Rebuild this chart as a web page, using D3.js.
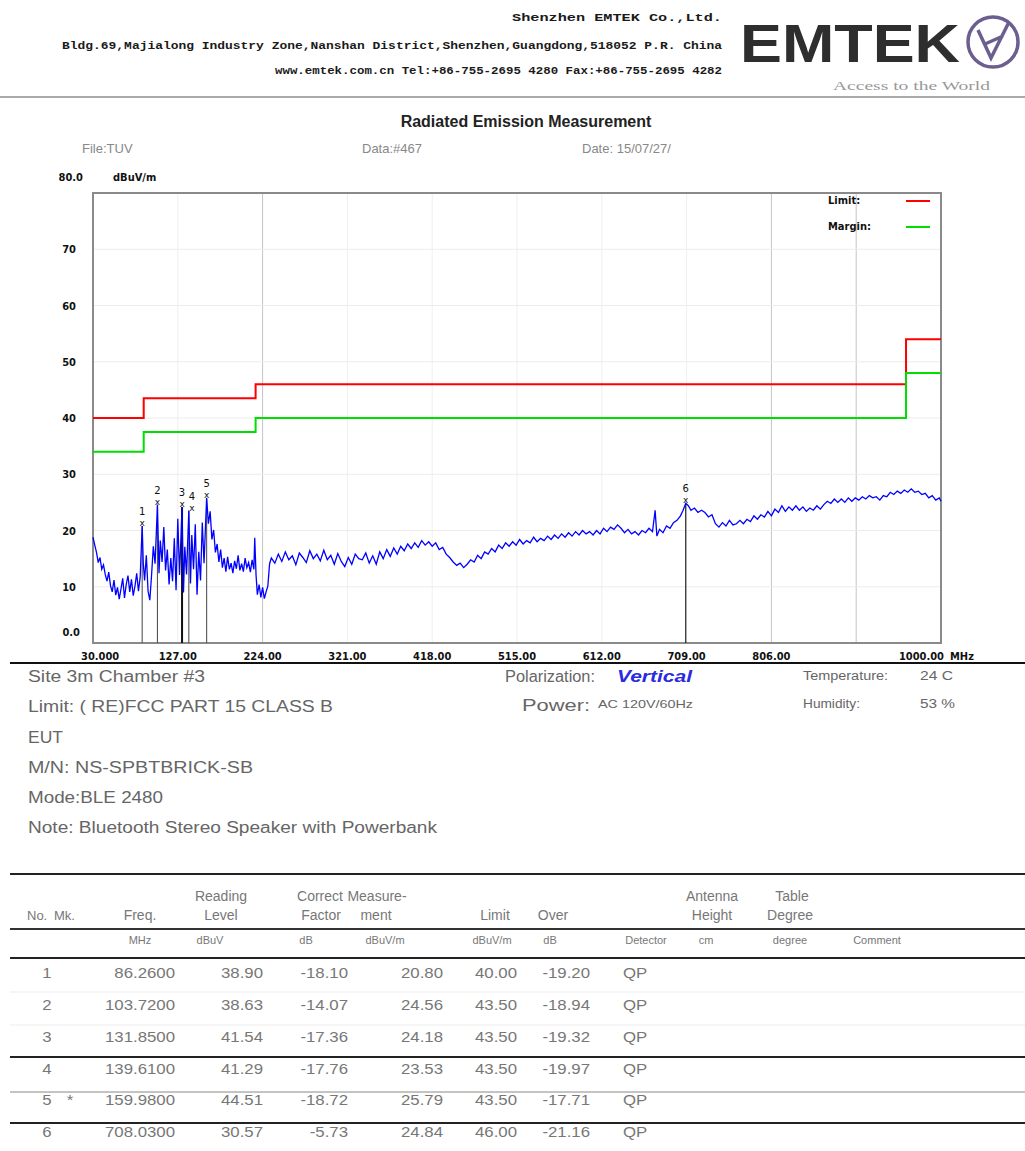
<!DOCTYPE html>
<html>
<head>
<meta charset="utf-8">
<script src="https://cdn.jsdelivr.net/npm/d3@7"></script>
<style>
  body { margin: 0; background: #fff; }
  svg { display: block; }
  .hdr { font-family: 'Liberation Mono', 'DejaVu Sans Mono', monospace; font-weight: bold; font-size: 11px; fill: #1a1a1a; }
  .ax { font-family: 'Liberation Sans Narrow', 'DejaVu Sans Condensed', sans-serif; font-weight: bold; font-size: 11px; fill: #111; }
  .info { font-family: 'Liberation Sans', Arial, sans-serif; fill: #666; }
  .tbl { font-family: 'Liberation Sans', Arial, sans-serif; fill: #777; }
</style>
</head>
<body>
<div id="chart"></div>
<script>
const width = 1025;
const height = 1151;

// plot box
const plotLeft = 93;
const plotRight = 941;
const plotTop = 193;
const plotBottom = 643;

// x ticks (MHz) and their labels
const xTicks = [30, 127, 224, 321, 418, 515, 612, 709, 806, 903, 1000];
const xTickLabels = ['30.000', '127.00', '224.00', '321.00', '418.00', '515.00', '612.00', '709.00', '806.00', '', '1000.00'];
const yTicks = [0, 10, 20, 30, 40, 50, 60, 70, 80];
const yTickLabels = ['0.0', '10', '20', '30', '40', '50', '60', '70', '80.0'];
// grid lines that show up darker in the print
const strongGrid = [224, 806, 903];

// limit lines (step after each break)
const limitFreq = [30, 88, 216, 960, 1000];
const limitLevel = [40, 43.5, 46, 54, 54];
const marginLevel = [34, 37.5, 40, 48, 48];

// measured trace [MHz, dBuV/m]
const trace = [
  [30,18.8],[32,17.4],[34,16.1],[36,14.3],[38,15.2],[40,13.1],[42,13.9],[44,12.2],[46,11.0],[48,12.6],
  [50,10.2],[52,9.1],[54,11.2],[56,8.5],[58,9.9],[60,7.8],[62,9.6],[64,11.5],[66,8.0],[68,10.4],
  [70,12.0],[72,9.1],[74,11.3],[76,8.4],[78,10.1],[80,12.4],[82,9.2],[84,11.8],[86.26,20.8],[87.5,14.2],
  [89,11.1],[91,15.6],[93,9.2],[95,7.6],[97,12.1],[99,17.2],[101,14.1],[103.72,24.56],[105.5,12.4],[107,18.2],
  [109,14.4],[111,20.6],[113,12.9],[115,16.6],[117,10.4],[119,15.1],[121,11.0],[123,18.6],[125,9.4],[127,22.1],
  [129,12.1],[131.85,24.18],[133.5,9.0],[135,17.1],[137,12.2],[139.61,23.53],[141.5,10.6],[143,19.2],[145,13.1],[147,21.1],
  [149,8.6],[151,16.2],[153,11.1],[155,21.4],[157,14.2],[159.98,25.79],[162,21.2],[164,23.4],[166,18.4],[168,20.1],
  [170,16.1],[172,17.6],[174,14.4],[176,16.6],[178,13.4],[180,15.1],[182,12.7],[184,15.3],[186,13.1],[188,14.2],
  [190,12.4],[192,14.6],[194,13.2],[196,15.6],[198,12.9],[200,14.1],[202,12.7],[204,15.1],[206,13.4],[208,14.3],
  [210,12.6],[212,14.8],[214,13.1],[215,18.7],[216.5,12.1],[218,8.6],[220,10.4],[222,8.1],[224,9.9],[226,7.9],
  [228,9.1],[230,10.1],[232,14.1],[234,15.1],[238,14.2],[242,15.8],[246,14.5],[250,16.2],[254,14.8],[258,15.5],
  [262,13.9],[266,16.0],[270,15.2],[274,14.3],[278,16.4],[282,15.0],[286,15.8],[290,14.6],[294,16.5],[298,14.8],
  [302,15.6],[306,14.0],[310,15.9],[314,14.5],[318,13.6],[322,15.2],[326,14.0],[330,15.8],[334,15.0],[338,14.8],
  [342,16.0],[346,14.2],[350,15.5],[354,14.0],[358,16.2],[362,15.0],[366,16.6],[370,15.4],[374,16.9],[378,15.8],
  [382,17.2],[386,16.4],[390,17.6],[394,16.8],[398,17.8],[402,17.0],[406,18.2],[410,17.4],[414,18.0],[418,17.2],
  [422,17.8],[426,16.6],[430,17.0],[434,15.8],[438,15.2],[442,14.4],[446,13.8],[450,14.2],[454,13.4],[458,14.0],
  [462,14.8],[466,14.4],[470,15.6],[474,15.0],[478,16.2],[482,15.8],[486,16.8],[490,16.2],[494,17.4],[498,16.8],
  [502,17.8],[506,17.2],[510,18.0],[514,17.4],[518,18.4],[522,17.6],[526,18.2],[530,17.8],[534,18.8],[538,18.0],
  [542,18.6],[546,18.2],[550,19.0],[554,18.4],[558,19.2],[562,18.6],[566,19.4],[570,18.8],[574,19.6],[578,19.0],
  [582,19.8],[586,19.2],[590,20.0],[594,19.4],[598,19.8],[602,19.2],[606,20.0],[610,19.4],[614,20.4],[618,19.8],
  [622,20.6],[626,20.2],[630,21.0],[634,20.4],[638,19.6],[642,20.2],[646,19.4],[650,19.8],[654,19.2],[658,20.0],
  [662,19.6],[666,20.4],[670,19.8],[673,23.6],[675,19.0],[678,20.2],[682,19.6],[686,20.8],[690,20.4],[694,21.4],
  [698,21.8],[702,22.6],[705,23.6],[708.03,24.84],[711,24.4],[714,23.6],[718,24.0],[722,23.2],[726,23.6],[730,23.2],
  [734,22.4],[738,22.8],[742,21.2],[746,20.6],[750,21.4],[754,20.8],[758,21.8],[762,21.0],[766,21.2],[770,21.8],
  [774,21.2],[778,22.0],[782,21.6],[786,22.6],[790,22.0],[794,22.8],[798,22.4],[802,23.4],[806,22.6],[810,23.8],
  [814,23.2],[818,24.4],[822,23.4],[826,24.2],[830,23.6],[834,24.4],[838,23.6],[842,24.2],[846,23.4],[850,24.0],
  [854,23.6],[858,24.4],[862,23.8],[866,24.6],[870,25.2],[874,24.8],[878,25.6],[882,25.0],[886,25.6],[890,25.0],
  [894,25.8],[898,25.2],[902,25.8],[906,25.4],[910,26.0],[914,25.6],[918,26.2],[922,25.8],[926,26.0],[930,25.4],
  [934,26.2],[938,26.0],[942,26.8],[946,26.4],[950,27.0],[954,26.6],[958,27.2],[962,26.8],[966,27.4],[970,26.8],
  [974,27.0],[978,26.4],[982,26.6],[986,25.8],[990,26.2],[994,25.4],[998,25.8],[1000,25.2]
];

// marker / table data
const mkNo = ['1', '2', '3', '4', '5', '6'];
const mkStar = ['', '', '', '', '*', ''];
const mkFreq = [86.26, 103.72, 131.85, 139.61, 159.98, 708.03];
const mkFreqText = ['86.2600', '103.7200', '131.8500', '139.6100', '159.9800', '708.0300'];
const mkReading = ['38.90', '38.63', '41.54', '41.29', '44.51', '30.57'];
const mkCorrect = ['-18.10', '-14.07', '-17.36', '-17.76', '-18.72', '-5.73'];
const mkLevel = [20.80, 24.56, 24.18, 23.53, 25.79, 24.84];
const mkLimit = ['40.00', '43.50', '43.50', '43.50', '43.50', '46.00'];
const mkOver = ['-19.20', '-18.94', '-19.32', '-19.97', '-17.71', '-21.16'];
const mkDetector = ['QP', 'QP', 'QP', 'QP', 'QP', 'QP'];

const svg = d3.select('#chart').append('svg')
  .attr('width', width)
  .attr('height', height);

svg.append('rect').attr('width', width).attr('height', height).attr('fill', '#fff');

// ---- header ----
const hdr = svg.append('g');
hdr.append('text').attr('class', 'hdr').attr('x', 722).attr('y', 21)
  .attr('text-anchor', 'end').attr('textLength', 210).attr('lengthAdjust', 'spacingAndGlyphs')
  .text('Shenzhen EMTEK Co.,Ltd.');
hdr.append('text').attr('class', 'hdr').attr('x', 722).attr('y', 49)
  .attr('text-anchor', 'end').attr('textLength', 660).attr('lengthAdjust', 'spacingAndGlyphs')
  .text('Bldg.69,Majialong Industry Zone,Nanshan District,Shenzhen,Guangdong,518052 P.R. China');
hdr.append('text').attr('class', 'hdr').attr('x', 722).attr('y', 74)
  .attr('text-anchor', 'end').attr('textLength', 447).attr('lengthAdjust', 'spacingAndGlyphs')
  .text('www.emtek.com.cn Tel:+86-755-2695 4280 Fax:+86-755-2695 4282');

// logo
hdr.append('text').attr('x', 740).attr('y', 62)
  .attr('textLength', 220).attr('lengthAdjust', 'spacingAndGlyphs')
  .style('font-family', "'Liberation Sans', Arial, sans-serif").style('font-weight', 'bold')
  .style('font-size', '54px').style('fill', '#2e2e2e')
  .text('EMTEK');
hdr.append('circle').attr('cx', 993).attr('cy', 42).attr('r', 25)
  .attr('fill', 'none').attr('stroke', '#6c5f8f').attr('stroke-width', 3.5);
hdr.append('path').attr('d', 'M978,30 L991,58 L1009,22 M985,44 L1003,36')
  .attr('fill', 'none').attr('stroke', '#6c5f8f').attr('stroke-width', 3.5);
hdr.append('text').attr('x', 833).attr('y', 90)
  .attr('textLength', 157).attr('lengthAdjust', 'spacingAndGlyphs')
  .style('font-family', "'Liberation Serif', serif").style('font-size', '12px').style('fill', '#999')
  .text('Access to the World');

svg.append('line').attr('x1', 0).attr('x2', width).attr('y1', 97).attr('y2', 97)
  .attr('stroke', '#aaa').attr('stroke-width', 2);

// title block
svg.append('text').attr('x', 526).attr('y', 127).attr('text-anchor', 'middle')
  .style('font-family', "'Liberation Sans', Arial, sans-serif").style('font-weight', 'bold')
  .style('font-size', '16px').style('fill', '#222')
  .text('Radiated Emission Measurement');
[['File:TUV', 82], ['Data:#467', 362], ['Date: 15/07/27/', 582]].forEach(([t, x]) => {
  svg.append('text').attr('class', 'info').attr('x', x).attr('y', 153)
    .style('font-size', '13px').style('fill', '#888').text(t);
});

// ---- chart ----
const x = d3.scaleLinear().domain([30, 1000]).range([plotLeft, plotRight]);
const y = d3.scaleLinear().domain([0, 80]).range([plotBottom, plotTop]);

const chart = svg.append('g');

// grid
chart.selectAll('.vgrid').data(xTicks.slice(1, -1)).enter().append('line')
  .attr('x1', d => x(d)).attr('x2', d => x(d))
  .attr('y1', plotTop).attr('y2', plotBottom)
  .attr('stroke', d => strongGrid.includes(d) ? '#c4c4c4' : '#efefef').attr('stroke-width', 1);
chart.selectAll('.hgrid').data(yTicks.slice(1, -1)).enter().append('line')
  .attr('x1', plotLeft).attr('x2', plotRight)
  .attr('y1', d => y(d)).attr('y2', d => y(d))
  .attr('stroke', '#ececec').attr('stroke-width', 1);

// frame
chart.append('rect').attr('x', plotLeft).attr('y', plotTop)
  .attr('width', plotRight - plotLeft).attr('height', plotBottom - plotTop)
  .attr('fill', 'none').attr('stroke', '#8a8a8a').attr('stroke-width', 2);

// x labels
chart.selectAll('.xlab').data(xTicks).enter().append('text')
  .attr('class', 'ax')
  .attr('x', (d, i) => i === 0 ? x(d) - 12 : i === xTicks.length - 1 ? x(d) + 3 : x(d))
  .attr('y', 660)
  .attr('text-anchor', (d, i) => i === 0 ? 'start' : i === xTicks.length - 1 ? 'end' : 'middle')
  .text((d, i) => xTickLabels[i]);
chart.append('text').attr('class', 'ax').attr('x', 950).attr('y', 660).text('MHz');

// y labels
chart.selectAll('.ylab').data(yTicks).enter().append('text')
  .attr('class', 'ax')
  .attr('x', d => d === 80 ? 83 : d === 0 ? 80 : 76)
  .attr('text-anchor', 'end')
  .attr('y', d => d === 80 ? y(d) - 12 : d === 0 ? y(d) - 7 : y(d) + 4)
  .text((d, i) => yTickLabels[i]);
chart.append('text').attr('class', 'ax').attr('x', 113).attr('y', y(80) - 12).text('dBuV/m');

// limit and margin lines
const stepLine = d3.line().x(d => x(d[0])).y(d => y(d[1])).curve(d3.curveStepAfter);
chart.append('path').datum(limitFreq.map((f, i) => [f, limitLevel[i]]))
  .attr('d', stepLine).attr('fill', 'none').attr('stroke', '#ff0000').attr('stroke-width', 2);
chart.append('path').datum(limitFreq.map((f, i) => [f, marginLevel[i]]))
  .attr('d', stepLine).attr('fill', 'none').attr('stroke', '#00dd00').attr('stroke-width', 2);

// legend
const legend = chart.append('g');
[['Limit:', '#ff0000', 201], ['Margin:', '#00dd00', 227]].forEach(([t, c, yy]) => {
  legend.append('text').attr('class', 'ax').attr('x', 828).attr('y', yy + 3).text(t);
  legend.append('line').attr('x1', 906).attr('x2', 930).attr('y1', yy).attr('y2', yy)
    .attr('stroke', c).attr('stroke-width', 2);
});

// marker lines
chart.selectAll('.mkline').data(mkFreq).enter().append('line')
  .attr('x1', d => x(d)).attr('x2', d => x(d))
  .attr('y1', (d, i) => y(mkLevel[i])).attr('y2', plotBottom)
  .attr('stroke', (d, i) => i === 2 || i === 5 ? '#111' : '#555')
  .attr('stroke-width', (d, i) => i === 2 ? 2 : 1.1);

// trace
const traceLine = d3.line().x(d => x(d[0])).y(d => y(d[1]));
chart.append('path').datum(trace)
  .attr('d', traceLine).attr('fill', 'none')
  .attr('stroke', '#0000ff').attr('stroke-width', 1.3);

// marker symbols
const mk = chart.selectAll('.mk').data(mkFreq).enter().append('g')
  .attr('transform', (d, i) => `translate(${x(d) + (i === 3 ? 3 : 0)},${y(mkLevel[i])})`);
mk.append('text').attr('text-anchor', 'middle').attr('y', 0)
  .style('font-family', "'DejaVu Sans', sans-serif").style('font-size', '9px').style('fill', '#111')
  .text('x');
mk.append('text').attr('text-anchor', 'middle').attr('y', -11)
  .style('font-family', "'DejaVu Sans', sans-serif").style('font-size', '10px').style('fill', '#111')
  .text((d, i) => mkNo[i]);

// separator under the chart
svg.append('line').attr('x1', 10).attr('x2', width).attr('y1', 663).attr('y2', 663)
  .attr('stroke', '#111').attr('stroke-width', 2);

// ---- info block ----
const info = svg.append('g');
const infoLeft = [
  ['Site 3m Chamber #3', 682, 177],
  ['Limit: ( RE)FCC PART 15 CLASS B', 712, 305],
  ['EUT', 743, 35],
  ['M/N:  NS-SPBTBRICK-SB', 773, 225],
  ['Mode:BLE 2480', 803, 135],
  ['Note: Bluetooth Stereo Speaker with Powerbank', 833, 409]
];
infoLeft.forEach(([t, yy, len]) => {
  info.append('text').attr('class', 'info').attr('x', 28).attr('y', yy)
    .attr('textLength', len).attr('lengthAdjust', 'spacingAndGlyphs')
    .style('font-size', '16px').text(t);
});
const infoRight = [
  ['Polarization:', 505, 682, 16, 90],
  ['Power:', 522, 711, 16, 68],
  ['AC 120V/60Hz', 598, 708, 11, 95],
  ['Temperature:', 803, 680, 12, 85],
  ['24 C', 920, 680, 12, 33],
  ['Humidity:', 803, 708, 12, 57],
  ['53 %', 920, 708, 12, 35]
];
infoRight.forEach(([t, xx, yy, fs, len]) => {
  info.append('text').attr('class', 'info').attr('x', xx).attr('y', yy)
    .attr('textLength', len).attr('lengthAdjust', 'spacingAndGlyphs')
    .style('font-size', fs + 'px').text(t);
});
info.append('text').attr('x', 617).attr('y', 682)
  .attr('textLength', 75).attr('lengthAdjust', 'spacingAndGlyphs')
  .style('font-family', "'Liberation Sans', Arial, sans-serif").style('font-weight', 'bold')
  .style('font-style', 'italic').style('font-size', '16px').style('fill', '#2a2ae0').text('Vertical');

// ---- table ----
const tbl = svg.append('g');
const hline = (yy, w, c, x1 = 10, x2 = width) => tbl.append('line')
  .attr('x1', x1).attr('x2', x2).attr('y1', yy).attr('y2', yy)
  .attr('stroke', c).attr('stroke-width', w);
hline(874, 2, '#222');
hline(929, 2, '#333');
hline(958, 2, '#222');
hline(992, 1, '#ededed');
hline(1025, 1, '#ededed');
hline(1057, 2, '#222');
hline(1092, 1, '#888');
hline(1123, 2, '#222');

const head1 = [['Reading', 221], ['Correct', 320], ['Measure-', 377], ['Antenna', 712], ['Table', 792]];
const head2 = [['Freq.', 140], ['Level', 221], ['Factor', 321], ['ment', 376],
  ['Limit', 495], ['Over', 553], ['Height', 712], ['Degree', 790]];
const units = [['MHz', 140], ['dBuV', 210], ['dB', 306], ['dBuV/m', 385], ['dBuV/m', 492], ['dB', 550],
  ['Detector', 646], ['cm', 706], ['degree', 790], ['Comment', 877]];
head1.forEach(([t, xx]) => tbl.append('text').attr('class', 'tbl').attr('x', xx).attr('y', 901)
  .attr('text-anchor', 'middle').style('font-size', '14px').text(t));
head2.forEach(([t, xx]) => tbl.append('text').attr('class', 'tbl').attr('x', xx).attr('y', 920)
  .attr('text-anchor', 'middle').style('font-size', '14px').text(t));
[['No.', 27], ['Mk.', 54]].forEach(([t, xx]) => tbl.append('text').attr('class', 'tbl')
  .attr('x', xx).attr('y', 920).style('font-size', '13px').text(t));
units.forEach(([t, xx]) => tbl.append('text').attr('class', 'tbl').attr('x', xx).attr('y', 944)
  .attr('text-anchor', 'middle').style('font-size', '11px').text(t));

const rowY = d3.scaleBand().domain(mkNo).range([960, 1151]).paddingInner(0);
const cols = [
  { v: mkNo, x: 47, a: 'middle' },
  { v: mkStar, x: 70, a: 'middle' },
  { v: mkFreqText, x: 175, a: 'end' },
  { v: mkReading, x: 263, a: 'end' },
  { v: mkCorrect, x: 348, a: 'end' },
  { v: mkLevel.map(d => d.toFixed(2)), x: 443, a: 'end' },
  { v: mkLimit, x: 517, a: 'end' },
  { v: mkOver, x: 590, a: 'end' },
  { v: mkDetector, x: 623, a: 'start' }
];
cols.forEach(col => {
  tbl.selectAll(null).data(mkNo).enter().append('text')
    .attr('class', 'tbl')
    .attr('transform', d => `translate(${col.x},${rowY(d) + 18}) scale(1.2,1)`)
    .attr('text-anchor', col.a)
    .style('font-size', '14px')
    .text((d, i) => col.v[i]);
});
</script>
</body>
</html>
